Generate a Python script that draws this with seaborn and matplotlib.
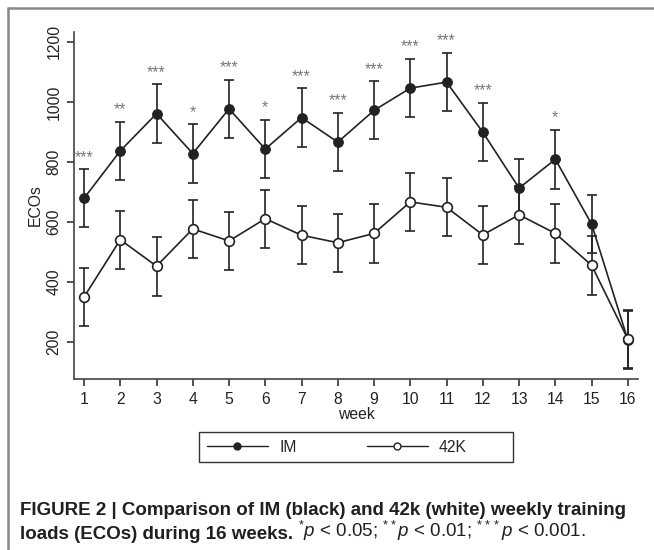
import numpy as np
import pandas as pd
import matplotlib.pyplot as plt
import seaborn as sns
from matplotlib.lines import Line2D
from matplotlib.patches import Rectangle

# --- DATA ---
weeks = list(range(1, 17))
im_mean = [679, 837, 961, 828, 977, 843, 948, 866, 972, 1046, 1066, 899, 713, 809, 593, 207]
im_err = [97, 97, 98, 97, 96, 97, 97, 97, 97, 97, 97, 97, 97, 98, 97, 97]
k42_mean = [350, 541, 453, 577, 537, 611, 556, 531, 562, 667, 649, 557, 624, 562, 456, 210]
k42_err = [97, 97, 98, 97, 98, 97, 96, 97, 97, 97, 97, 97, 97, 97, 98, 97]
sig_labels = ['***', '**', '***', '*', '***', '*', '***', '***', '***', '***', '***', '***', '', '*', '', '']
y_ticks = [200, 400, 600, 800, 1000, 1200]

df = pd.DataFrame({'week': weeks * 2,
                   'ECOs': im_mean + k42_mean,
                   'group': ['IM'] * 16 + ['42K'] * 16})

# --- STYLE ---
sns.set_theme(style="ticks")
plt.rcParams['font.family'] = ['Liberation Sans', 'DejaVu Sans']
plt.rcParams['mathtext.fontset'] = 'custom'
plt.rcParams['mathtext.rm'] = 'Liberation Sans'
plt.rcParams['mathtext.it'] = 'Liberation Sans:italic'

ink = '#222222'
fs = 11.3

fig = plt.figure(figsize=(6.54, 5.5), dpi=100)
ax = fig.add_axes([74 / 654, 1 - 379 / 550, 564 / 654, 347 / 550])

# error bars first, markers sit on top
ax.errorbar(weeks, im_mean, yerr=im_err, fmt='none', ecolor=ink, elinewidth=1.2,
            capsize=3.5, capthick=1.2, zorder=1)
ax.errorbar(weeks, k42_mean, yerr=k42_err, fmt='none', ecolor=ink, elinewidth=1.2,
            capsize=3.5, capthick=1.2, zorder=1)

sns.lineplot(data=df[df['group'] == 'IM'], x='week', y='ECOs', ax=ax, color=ink,
             marker='o', markersize=7, markerfacecolor=ink, markeredgecolor=ink,
             linewidth=1.2, zorder=3)
sns.lineplot(data=df[df['group'] == '42K'], x='week', y='ECOs', ax=ax, color=ink,
             marker='o', markersize=7, markerfacecolor='white', markeredgecolor=ink,
             markeredgewidth=1.2, linewidth=1.2, zorder=4)

# significance stars above IM bars
for w, m, e, s in zip(weeks, im_mean, im_err, sig_labels):
    if s:
        ax.text(w, m + e + 25, s, ha='center', va='baseline', fontsize=fs, color='#777777')

# --- AXES ---
ax.set_xlim(0.724, 16.28)
ax.set_ylim(77, 1233)
ax.set_xticks(weeks)
ax.set_yticks(y_ticks)
ax.set_yticklabels([str(t) for t in y_ticks], rotation=90, va='center')
ax.tick_params(axis='both', labelsize=fs, color=ink, labelcolor=ink, length=5, width=1.1)
ax.tick_params(axis='x', pad=4)
ax.tick_params(axis='y', pad=4)
ax.set_xlabel('week', fontsize=fs, color=ink, labelpad=0.5)
ax.set_ylabel('ECOs', fontsize=fs, color=ink, labelpad=2.5)
for side in ['top', 'right']:
    ax.spines[side].set_visible(False)
for side in ['left', 'bottom']:
    ax.spines[side].set_color('#444444')
    ax.spines[side].set_linewidth(1.2)

# --- LEGEND ---
handles = [Line2D([], [], color=ink, lw=1.0, marker='o', markersize=5,
                  markerfacecolor=ink, markeredgecolor=ink),
           Line2D([], [], color=ink, lw=1.0, marker='o', markersize=5,
                  markerfacecolor='white', markeredgecolor=ink)]
fig.legend(handles, ['IM', '42K'], ncol=2, loc='center left',
           bbox_to_anchor=(199 / 654, 1 - 447 / 550), borderaxespad=0,
           fontsize=fs, handlelength=3.9, handletextpad=0.72, columnspacing=4.45,
           borderpad=0.5, frameon=False)
fig.add_artist(Rectangle((199 / 654, 1 - 462 / 550), 314 / 654, 30 / 550,
                         transform=fig.transFigure, fill=False, edgecolor='#333333', lw=1.0))

# --- FRAME AND CAPTION ---
fig.add_artist(Line2D([8 / 654, 8 / 654], [0, 1 - 8 / 550], transform=fig.transFigure,
                      color='#888888', lw=1.8))
fig.add_artist(Line2D([8 / 654, 1], [1 - 8 / 550, 1 - 8 / 550], transform=fig.transFigure,
                      color='#888888', lw=1.8))

cap_fs = 13.5
fig.text(20 / 654, 1 - 515 / 550,
         'FIGURE 2 | Comparison of IM (black) and 42k (white) weekly training',
         fontsize=cap_fs, fontweight='bold', color='#231f20', va='baseline')
t2 = fig.text(20 / 654, 1 - 539 / 550, 'loads (ECOs) during 16 weeks.',
              fontsize=cap_fs, fontweight='bold', color='#231f20', va='baseline')
ax.annotate(r' $^{*}p$ < 0.05; $^{**}p$ < 0.01; $^{***}p$ < 0.001.', xy=(1, 0),
            xycoords=t2, va='bottom', ha='left', fontsize=cap_fs, color='#231f20',
            annotation_clip=False)

fig.savefig('out.png', dpi=100)
